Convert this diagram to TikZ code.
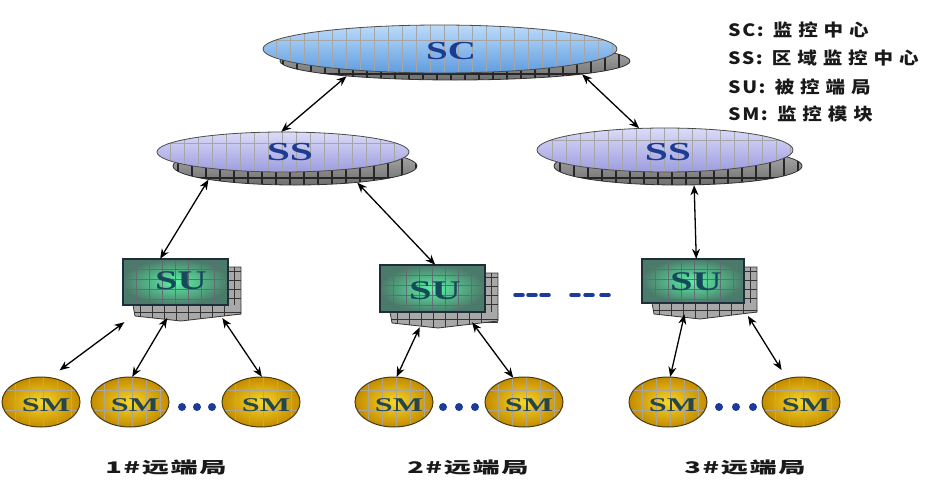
\documentclass[tikz,border=0pt]{standalone}
\usepackage{fontspec}
\newfontfamily\cjk[LetterSpace=30]{Noto Sans CJK SC}
\newfontfamily\legl[LetterSpace=8]{Noto Sans CJK SC}
\newfontfamily\cjkb[LetterSpace=6]{Noto Sans CJK SC}
\newfontfamily\serifb{Liberation Serif}
\usetikzlibrary{arrows.meta,shapes.geometric,calc}
\definecolor{scmain}{HTML}{A6D0F8}
\definecolor{scdark}{HTML}{5E9CE0}
\definecolor{ssmain}{HTML}{CFCFF6}
\definecolor{ssdark}{HTML}{9C9CE0}
\definecolor{shlight}{HTML}{B4B4B4}
\definecolor{shdark}{HTML}{6E6E6E}
\definecolor{txtblue}{HTML}{1D3C8F}
\definecolor{sugreen}{HTML}{5CF2A6}
\definecolor{suouter}{HTML}{4C7A6A}
\definecolor{suline}{HTML}{1E2E3A}
\definecolor{sugray}{HTML}{A8A8A8}
\definecolor{sutext}{HTML}{16495A}
\definecolor{smin}{HTML}{F7D628}
\definecolor{smout}{HTML}{C48C00}
\definecolor{smline}{HTML}{4A3A0A}
\definecolor{smtext}{HTML}{26464E}
\definecolor{dotblue}{HTML}{1C3A9A}
\tikzset{
  arr/.style={<->, >={Stealth[length=10pt,width=8pt]}, line width=1.3pt, black},
  bigell/.style={ellipse, inner sep=0pt, draw=none},
  shell/.style={ellipse, inner sep=0pt, top color=shlight, bottom color=shdark, draw=black!80, line width=0.8pt},
  shgrid/.style={black!85, line width=1.2pt},
  mgrid/.style={black!35, line width=0.6pt},
  sugrid/.style={suline!70, line width=0.7pt},
  sugridk/.style={black!80, line width=1pt},
  smell/.style={ellipse, inner sep=0pt, minimum width=78pt, minimum height=50pt, inner color=smin, outer color=smout},
  smgrid/.style={smline!45, line width=0.6pt},
  bigtxt/.style={font=\serifb\bfseries\fontsize{26}{26}\selectfont, text=txtblue, inner sep=0pt},
  sutxt/.style={font=\serifb\bfseries\fontsize{27}{27}\selectfont, text=sutext, inner sep=0pt},
  smtxt/.style={font=\serifb\bfseries\fontsize{19.5}{19.5}\selectfont, text=smtext, inner sep=0pt},
  legend/.style={anchor=west, inner sep=0pt, text=black!90, font=\bfseries\fontsize{17}{17}\selectfont},
  bottomlbl/.style={inner sep=0pt, text=black!90, font=\cjkb\bfseries\fontsize{16}{16}\selectfont},
  dotsty/.style={dotblue, line width=3.5pt, line cap=round}
}
\newcommand\legline[2]{\scalebox{1.15}[1]{{\legl #1}\hspace{8pt}{\cjk #2}}}
\newcommand\drawSUbox[4]{%
  \fill[sugray] (#3-3,#2+8) rectangle (#3+13,#4+10);
  \begin{scope}
    \clip (#3-3,#2+8) rectangle (#3+13,#4+10);
    \foreach \gy in {0,...,5} \draw[sugridk] (#3-3,{#2+12+\gy*9}) -- (#3+13,{#2+12+\gy*9});
    \draw[sugridk] (#3+6,#2+8) -- (#3+6,#4+10);
  \end{scope}
  \fill[sugray] (#1+10,#4) -- (#3+13,#4) -- (#3+13,#4+9) -- (#1+58,#4+16) -- (#1+12,#4+11) -- cycle;
  \begin{scope}
    \clip (#1+10,#4) -- (#3+13,#4) -- (#3+13,#4+9) -- (#1+58,#4+16) -- (#1+12,#4+11) -- cycle;
    \foreach \gx in {1,...,8} \draw[sugridk] ({#1+5+\gx*12},#4) -- ({#1+5+\gx*12},#4+18);
    \draw[sugridk] (#1,#4+7) -- (#3+14,#4+7);
  \end{scope}
  \draw[black!80, line width=0.8pt] (#1+10,#4) -- (#1+12,#4+11) -- (#1+58,#4+16) -- (#3+13,#4+9) -- (#3+13,#2+8) -- (#3,#2+8);
  \fill[inner color=sugreen, outer color=suouter] (#1,#2) rectangle (#3,#4);
  \begin{scope}
    \clip (#1,#2) rectangle (#3,#4);
    \foreach \gx in {1,...,7} \draw[sugrid] ({#1+\gx*13},#2) -- ({#1+\gx*13},#4);
    \foreach \gy in {1,...,4} \draw[sugrid] (#1,{#2+\gy*10}) -- (#3,{#2+\gy*10});
  \end{scope}
  \draw[suline, line width=1.5pt] (#1,#2) rectangle (#3,#4);
}
\newcommand\drawSMgrid[2]{%
  \begin{scope}
    \clip (#1,#2) ellipse [x radius=39pt, y radius=25pt];
    \foreach \gx in {-26,-12,2,16,30} \draw[smgrid] ({#1+\gx},{#2-30}) -- ({#1+\gx},{#2+30});
    \foreach \gy in {-12,8} \draw[smgrid] ({#1-40},{#2+\gy}) -- ({#1+40},{#2+\gy});
  \end{scope}
  \draw[smline, line width=1pt] (#1,#2) ellipse [x radius=39pt, y radius=25pt];
}
\begin{document}
\begin{tikzpicture}[x=1pt,y=-1pt]
\useasboundingbox (0,0) rectangle (946,480);
\fill[white] (0,0) rectangle (946,480);

% ---------- SC ----------
\node[shell, minimum width=350pt, minimum height=38pt] (scsh) at (455,61) {};
\begin{scope}
  \clip (455,61) ellipse [x radius=175pt, y radius=19pt];
  \foreach \x in {283,297,...,632} \draw[shgrid] (\x,35) -- (\x,85);
  \draw[shgrid] (270,74) -- (640,74);
\end{scope}
\node[bigell, top color=scmain!75!white, bottom color=scdark, minimum width=354pt, minimum height=48pt] (sc) at (440,49) {};
\begin{scope}
  \clip (440,49) ellipse [x radius=177pt, y radius=24pt];
  \foreach \x in {276,290,...,620} \draw[mgrid] (\x,20) -- (\x,80);
  \draw[mgrid] (260,40) -- (620,40);
\end{scope}
\draw[black!70, line width=0.8pt] (440,49) ellipse [x radius=177pt, y radius=24pt];
\node[bigtxt] (sct) at (451,51) {\scalebox{1.5}[1]{SC}};

% ---------- SS left ----------
\node[shell, minimum width=244pt, minimum height=38pt] (sslsh) at (295,166) {};
\begin{scope}
  \clip (295,166) ellipse [x radius=122pt, y radius=19pt];
  \foreach \x in {178,192,...,420} \draw[shgrid] (\x,140) -- (\x,190);
  \draw[shgrid] (170,178) -- (420,178);
\end{scope}
\node[bigell, top color=ssmain!75!white, bottom color=ssdark, minimum width=252pt, minimum height=40pt] (ssl) at (283,152) {};
\begin{scope}
  \clip (283,152) ellipse [x radius=126pt, y radius=20pt];
  \foreach \x in {170,184,...,410} \draw[mgrid] (\x,125) -- (\x,180);
  \draw[mgrid] (150,143) -- (410,143);
\end{scope}
\draw[black!70, line width=0.8pt] (283,152) ellipse [x radius=126pt, y radius=20pt];
\node[bigtxt] (sslt) at (290,152) {\scalebox{1.6}[1]{SS}};

% ---------- SS right ----------
\node[shell, minimum width=248pt, minimum height=38pt] (ssrsh) at (678,166) {};
\begin{scope}
  \clip (678,166) ellipse [x radius=124pt, y radius=19pt];
  \foreach \x in {560,574,...,805} \draw[shgrid] (\x,140) -- (\x,190);
  \draw[shgrid] (550,178) -- (805,178);
\end{scope}
\node[bigell, top color=ssmain!75!white, bottom color=ssdark, minimum width=256pt, minimum height=44pt] (ssr) at (665,150) {};
\begin{scope}
  \clip (665,150) ellipse [x radius=128pt, y radius=22pt];
  \foreach \x in {552,566,...,795} \draw[mgrid] (\x,120) -- (\x,180);
  \draw[mgrid] (530,140) -- (800,140);
\end{scope}
\draw[black!70, line width=0.8pt] (665,150) ellipse [x radius=128pt, y radius=22pt];
\node[bigtxt] (ssrt) at (668,152) {\scalebox{1.6}[1]{SS}};

% ---------- SU boxes ----------
\drawSUbox{123}{259}{228}{305}
\node[inner sep=0pt, minimum width=117pt, minimum height=63pt] (sul) at (181.5,290.5) {};
\node[sutxt] (sult) at (181,281) {\scalebox{1.5}[1]{SU}};

\drawSUbox{380}{265}{485}{312}
\node[inner sep=0pt, minimum width=117pt, minimum height=62pt] (sum) at (438.5,296) {};
\node[sutxt] (sumt) at (435,291) {\scalebox{1.5}[1]{SU}};

\drawSUbox{642}{259}{744}{303}
\node[inner sep=0pt, minimum width=115pt, minimum height=61pt] (sur) at (699.5,289.5) {};
\node[sutxt] (surt) at (696,282) {\scalebox{1.5}[1]{SU}};

% dashes between SU
\foreach \x in {519,532,545,575,589,605} \draw[dotsty] (\x-4,295) -- (\x+4,295);

% ---------- SM ----------
\foreach \n/\x in {1/41,2/130,3/261,4/394,5/524,6/668,7/801} {
  \node[smell] (sm\n) at (\x,402) {};
  \drawSMgrid{\x}{402}
  \node[smtxt] (sm\n t) at (\x+5,405) {\scalebox{1.65}[1]{SM}};
}
\foreach \x in {182,197,212,443,459,475,719,736,753} \fill[dotblue] (\x,407) circle [radius=4pt];

% ---------- arrows ----------
\draw[arr] (scsh.188) -- (ssl.95);
\draw[arr] (scsh.-6) -- (ssr.140);
\draw[arr] (sslsh.189) -- (sul.124);
\draw[arr] (sslsh.-15) -- (sum.96);
\draw[arr] (ssrsh.-50) -- (sur.96);
\draw[arr, shorten >=12pt] (sul.209) -- (sm1.70);
\draw[arr, shorten <=-5pt] (sul.242) -- (sm2.85);
\draw[arr, shorten <=-5pt] (sul.-36) -- (sm3.88);
\draw[arr] (sum.239) -- (sm4.84);
\draw[arr, shorten <=-6pt] (sum.-40) -- (sm5.114);
\draw[arr, shorten <=-6pt] (sur.242) -- (sm6.85);
\draw[arr, shorten >=10pt, shorten <=-5pt] (sur.-31) -- (sm7.121);

% ---------- legend ----------
\node[legend] (lg1) at (728,30) {\legline{SC:}{监控中心}};
\node[legend] (lg2) at (728,58) {\legline{SS:}{区域监控中心}};
\node[legend] (lg3) at (728,87) {\legline{SU:}{被控端局}};
\node[legend] (lg4) at (728,114) {\legline{SM:}{监控模块}};

% ---------- bottom labels ----------
\node[bottomlbl] (lb1) at (166,467) {\scalebox{1.7}[1]{1\#远端局}};
\node[bottomlbl] (lb2) at (468,467) {\scalebox{1.7}[1]{2\#远端局}};
\node[bottomlbl] (lb3) at (745,467) {\scalebox{1.7}[1]{3\#远端局}};
\end{tikzpicture}
\end{document}
